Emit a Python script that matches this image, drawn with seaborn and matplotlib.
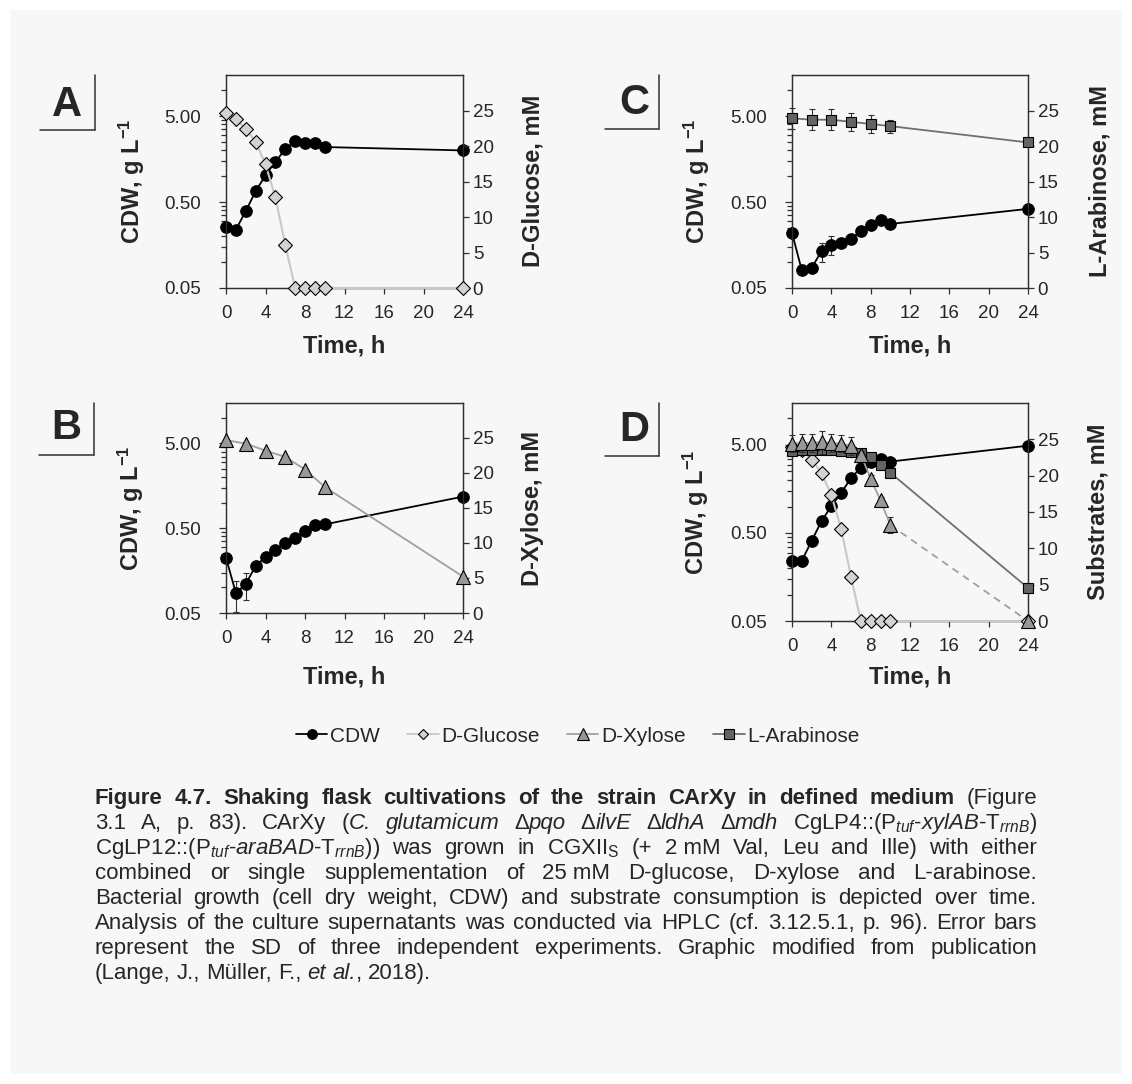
import matplotlib
matplotlib.use("Agg")
import matplotlib.pyplot as plt
from matplotlib.lines import Line2D
from matplotlib.patches import Rectangle
from matplotlib.ticker import FixedLocator, NullFormatter
import seaborn as sns

# ------------------------------------------------------------------ data
time_full = [0, 1, 2, 3, 4, 5, 6, 7, 8, 9, 10, 24]
time_even = [0, 2, 4, 6, 8, 10, 24]

cdw_A = [0.257, 0.239, 0.391, 0.668, 1.02, 1.47, 2.05, 2.56, 2.44, 2.40, 2.18, 1.99]
glc_A = [24.6, 23.8, 22.4, 20.6, 17.4, 12.8, 6.1, 0, 0, 0, 0, 0]

cdw_B = [0.224, 0.086, 0.110, 0.179, 0.230, 0.280, 0.335, 0.387, 0.463, 0.540, 0.555, 1.18]
cdw_B_sd = [0, 0.034, 0.038, 0, 0, 0, 0, 0, 0, 0, 0.06, 0]
xyl_B = [24.7, 24.2, 23.2, 22.3, 20.5, 18.0, 5.2]

cdw_C = [0.219, 0.080, 0.086, 0.134, 0.160, 0.167, 0.186, 0.229, 0.273, 0.313, 0.278, 0.416]
cdw_C_sd = [0, 0.008, 0.01, 0.035, 0.04, 0.015, 0.01, 0.01, 0.01, 0.01, 0.01, 0]
ara_C = [23.9, 23.7, 23.7, 23.4, 23.1, 22.8, 20.5]
ara_C_sd = [1.5, 1.5, 1.5, 1.3, 1.2, 0.9, 0]

cdw_D = [0.242, 0.242, 0.407, 0.683, 1.01, 1.43, 2.10, 2.77, 3.24, 3.48, 3.24, 4.91]
cdw_D_sd = [0, 0.03, 0, 0, 0, 0, 0, 0, 0, 0, 0, 0]
glc_D = [24.0, 23.6, 22.2, 20.4, 17.3, 12.7, 6.1, 0, 0, 0, 0, 0]
xyl_D = [24.4, 24.5, 24.5, 24.6, 24.5, 24.4, 24.1, 22.9, 19.6, 16.6, 13.2, 0]
xyl_D_sd = [1.2, 1.2, 1.2, 1.6, 1.2, 1.2, 1.2, 0.5, 0.5, 0.5, 1.1, 0]
ara_D = [23.4, 23.5, 23.5, 23.5, 23.5, 23.4, 23.3, 23.1, 22.6, 21.4, 20.4, 4.55]

panel_letters = ["A", "B", "C", "D"]
right_labels = ["D-Glucose, mM", "D-Xylose, mM", "L-Arabinose, mM", "Substrates, mM"]
legend_labels = ["CDW", "D-Glucose", "D-Xylose", "L-Arabinose"]
x_ticks = [0, 4, 8, 12, 16, 20, 24]
left_ticks = [0.05, 0.5, 5]
left_ticklabels = ["0.05", "0.50", "5.00"]
right_ticks = [0, 5, 10, 15, 20, 25]

# ------------------------------------------------------------------ style
sns.set_style("ticks")
plt.rcParams["font.family"] = ["Liberation Sans", "DejaVu Sans"]
plt.rcParams["mathtext.fontset"] = "custom"
plt.rcParams["mathtext.rm"] = "Liberation Sans"
plt.rcParams["mathtext.it"] = "Liberation Sans:italic"
plt.rcParams["mathtext.bf"] = "Liberation Sans:bold"

W, H = 1132, 1084
fig = plt.figure(figsize=(W / 100, H / 100), dpi=100, facecolor="white")
fig.patches.append(Rectangle((10 / W, 10 / H), 1112 / W, 1064 / H,
                             transform=fig.transFigure, facecolor="#f7f7f7",
                             edgecolor="none", zorder=-10))

def fx(px):
    return px / W

def fy(py):
    return 1 - py / H

STY = {
    "cdw": dict(lc="black", lw=1.3, m="o", ms=8.3, fc="black"),
    "glc": dict(lc="#c8c8c8", lw=1.5, m="D", ms=7.0, fc="#d2d2d2"),
    "xyl": dict(lc="#a0a0a0", lw=1.3, m="^", ms=10.5, fc="#989898"),
    "ara": dict(lc="#707070", lw=1.3, m="s", ms=7.8, fc="#646464"),
}
SPINE = "#303030"

def draw(ax, t, v, key, sd=None, dash_from=None, z=3):
    s = STY[key]
    if sd is not None:
        ax.errorbar(t, v, yerr=sd, fmt="none", ecolor="#303030", elinewidth=0.8,
                    capsize=2.2, capthick=0.8, zorder=z - 0.5, clip_on=False)
    if dash_from is None:
        sns.lineplot(x=t, y=v, ax=ax, color=s["lc"], lw=s["lw"], estimator=None,
                     sort=False, zorder=z, clip_on=False)
    else:
        k = t.index(dash_from)
        sns.lineplot(x=t[:k + 1], y=v[:k + 1], ax=ax, color=s["lc"], lw=s["lw"],
                     estimator=None, sort=False, zorder=z, clip_on=False)
        sns.lineplot(x=t[k:], y=v[k:], ax=ax, color=s["lc"], lw=s["lw"],
                     linestyle=(0, (4, 3)), estimator=None, sort=False,
                     zorder=z, clip_on=False)
    ax.plot(t, v, linestyle="none", marker=s["m"], ms=s["ms"], mfc=s["fc"],
            mec="black", mew=0.8, zorder=z + 0.2, clip_on=False)

def setup(rect):
    l, t_, r, b = rect
    ax = fig.add_axes([fx(l), fy(b), (r - l) / W, (b - t_) / H])
    ax.set_yscale("log")
    ax.set_xlim(0, 24)
    ax.set_ylim(0.05, 15)
    ax2 = ax.twinx()
    ax2.set_ylim(0, 30)
    for a in (ax, ax2):
        a.patch.set_visible(False)
        for sp in a.spines.values():
            sp.set_visible(True)
            sp.set_color(SPINE)
            sp.set_linewidth(0.9)
    ax2.set_zorder(ax.get_zorder() + 1)
    return ax, ax2

def finish(ax, ax2):
    ax.set_xlim(0, 24)
    ax.set_ylim(0.05, 15)
    ax2.set_ylim(0, 30)
    ax.set_xticks(x_ticks)
    ax.set_xticklabels([str(x) for x in x_ticks])
    ax.yaxis.set_major_locator(FixedLocator(left_ticks))
    ax.set_yticklabels(left_ticklabels)
    minors = [0.05 * k for k in range(2, 10)] + [0.5 * k for k in range(2, 10)] + [10]
    ax.yaxis.set_minor_locator(FixedLocator(minors))
    ax.yaxis.set_minor_formatter(NullFormatter())
    ax.xaxis.set_minor_locator(FixedLocator([]))
    ax2.set_yticks(right_ticks)
    ax2.set_yticklabels([str(v) for v in right_ticks])
    ax.tick_params(axis="x", which="major", direction="out", length=4, width=0.9,
                   color=SPINE, labelsize=13.5, pad=8.5, top=False)
    ax.tick_params(axis="y", which="major", direction="out", length=5, width=0.9,
                   color=SPINE, labelsize=13.5, pad=13, right=False)
    ax.tick_params(axis="y", which="minor", direction="out", length=3.5, width=0.9,
                   color=SPINE, right=False)
    ax2.tick_params(axis="y", which="major", direction="out", length=4, width=0.9,
                    color=SPINE, labelsize=13.5, pad=3)
    ax.set_xlabel("")
    ax.set_ylabel("")
    ax2.set_xlabel("")
    ax2.set_ylabel("")

# panel rectangles (left, top, right, bottom) in pixels
rects = [(226, 75, 463, 288), (226, 403, 463, 613), (792, 75, 1028, 288), (792, 403, 1028, 621)]

# ---- A
axA, axA2 = setup(rects[0])
draw(axA, time_full, cdw_A, "cdw")
draw(axA2, time_full, glc_A, "glc")
finish(axA, axA2)

# ---- B
axB, axB2 = setup(rects[1])
draw(axB, time_full, cdw_B, "cdw", sd=cdw_B_sd)
draw(axB2, time_even, xyl_B, "xyl")
finish(axB, axB2)

# ---- C
axC, axC2 = setup(rects[2])
draw(axC, time_full, cdw_C, "cdw", sd=cdw_C_sd)
draw(axC2, time_even, ara_C, "ara", sd=ara_C_sd)
finish(axC, axC2)

# ---- D
axD, axD2 = setup(rects[3])
draw(axD, time_full, cdw_D, "cdw", sd=cdw_D_sd)
draw(axD2, time_full, glc_D, "glc", z=3)
draw(axD2, time_full, ara_D, "ara", z=4)
draw(axD2, time_full, xyl_D, "xyl", sd=xyl_D_sd, dash_from=10, z=5)
finish(axD, axD2)

# ---- axis labels
label_pos = [
    dict(left=(132, 181), right=(533, 181), xl=(344, 346)),
    dict(left=(131, 508), right=(532, 508), xl=(344, 677)),
    dict(left=(697, 181), right=(1100, 181), xl=(910, 346)),
    dict(left=(696, 512), right=(1098, 512), xl=(910, 677)),
]
for i, lp in enumerate(label_pos):
    fig.text(fx(lp["left"][0]), fy(lp["left"][1]), r"CDW, g L$^{\mathbf{-1}}$",
             rotation=90, ha="center", va="center", fontsize=17, fontweight="bold")
    fig.text(fx(lp["right"][0]), fy(lp["right"][1]), right_labels[i],
             rotation=90, ha="center", va="center", fontsize=17, fontweight="bold")
    fig.text(fx(lp["xl"][0]), fy(lp["xl"][1]), "Time, h",
             ha="center", va="center", fontsize=17, fontweight="bold")

# ---- panel letter boxes
boxes = [
    dict(c=(67, 105), h=(40, 95, 130), v=(95, 75, 130)),
    dict(c=(66, 428), h=(39, 94, 455), v=(94, 403, 455)),
    dict(c=(634, 103), h=(605, 659, 129), v=(659, 75, 129)),
    dict(c=(634, 430), h=(605, 659, 456), v=(659, 403, 456)),
]
for letter, bx in zip(panel_letters, boxes):
    fig.text(fx(bx["c"][0]), fy(bx["c"][1]), letter, ha="center", va="center",
             fontsize=30, fontweight="bold")
    x0, x1, yy = bx["h"]
    fig.add_artist(Line2D([fx(x0), fx(x1)], [fy(yy), fy(yy)], color="#303030",
                          lw=1.1, transform=fig.transFigure))
    xx, y0, y1 = bx["v"]
    fig.add_artist(Line2D([fx(xx), fx(xx)], [fy(y0), fy(y1)], color="#303030",
                          lw=1.1, transform=fig.transFigure))

# ---- legend
handles = []
for key, ms in zip(["cdw", "glc", "xyl", "ara"], [7, 5, 8.5, 7]):
    s = STY[key]
    handles.append(Line2D([], [], color=s["lc"], lw=1.3, marker=s["m"], ms=ms,
                          mfc=s["fc"], mec="black", mew=0.8))
fig.legend(handles, legend_labels, loc="center", bbox_to_anchor=(fx(578), fy(736)),
           ncol=4, frameon=False, fontsize=15, handlelength=1.5,
           handletextpad=0.15, columnspacing=1.3)

# ---- caption (justified); a word is a string (may hold mathtext) or a list of
#      (text, weight, style) pieces placed side by side
N, B, I = "normal", "bold", "italic"
line1 = [[(w, B, N)] for w in
         "Figure 4.7. Shaking flask cultivations of the strain CArXy in defined medium".split()]
line1.append("(Figure")
cap_lines = [
    line1,
    ["3.1", "A,", "p.", "83).", "CArXy", [("(", N, N), ("C.", N, I)], [("glutamicum", N, I)],
     [("Δ", N, N), ("pqo", N, I)], [("Δ", N, N), ("ilvE", N, I)], [("Δ", N, N), ("ldhA", N, I)],
     [("Δ", N, N), ("mdh", N, I)],
     r"CgLP4::(P$_{\mathit{tuf}}$-$\mathit{xylAB}$-T$_{\mathit{rrnB}}$)"],
    [r"CgLP12::(P$_{\mathit{tuf}}$-$\mathit{araBAD}$-T$_{\mathit{rrnB}}$))", "was", "grown",
     "in", r"CGXII$_{\mathrm{S}}$", "(+", "2 mM", "Val,", "Leu", "and", "Ille)", "with", "either"],
    ["combined", "or", "single", "supplementation", "of", "25 mM", "D-glucose,", "D-xylose",
     "and", "L-arabinose."],
    "Bacterial growth (cell dry weight, CDW) and substrate consumption is depicted over time.".split(),
    "Analysis of the culture supernatants was conducted via HPLC (cf. 3.12.5.1, p. 96). Error bars".split(),
    "represent the SD of three independent experiments. Graphic modified from publication".split(),
    ["(Lange,", "J.,", "Müller,", "F.,", [("et", N, I)], [("al.", N, I), (",", N, N)], "2018)."],
]
justify = [True] * 7 + [False]
cap_size = 16.0
x_left, x_right = 95, 1037
base0, step = 804, 25
space_px = 0.278 * cap_size * 100 / 72
renderer = fig.canvas.get_renderer()
for i, words in enumerate(cap_lines):
    yb = base0 + step * i
    groups = []
    for w in words:
        pieces = [(w, N, N)] if isinstance(w, str) else w
        arts = []
        for txt, wt, st in pieces:
            arts.append(fig.text(0, fy(yb), txt, fontsize=cap_size, fontweight=wt,
                                 fontstyle=st, ha="left", va="baseline"))
        ws = [a.get_window_extent(renderer).width for a in arts]
        groups.append((arts, ws))
    total = sum(sum(ws) for _, ws in groups)
    if justify[i]:
        gap = (x_right - x_left - total) / (len(groups) - 1)
    else:
        gap = space_px
    x = x_left
    for arts, ws in groups:
        for a, wd in zip(arts, ws):
            a.set_x(fx(x))
            x += wd
        x += gap

fig.savefig("out.png", dpi=100, facecolor="white")
